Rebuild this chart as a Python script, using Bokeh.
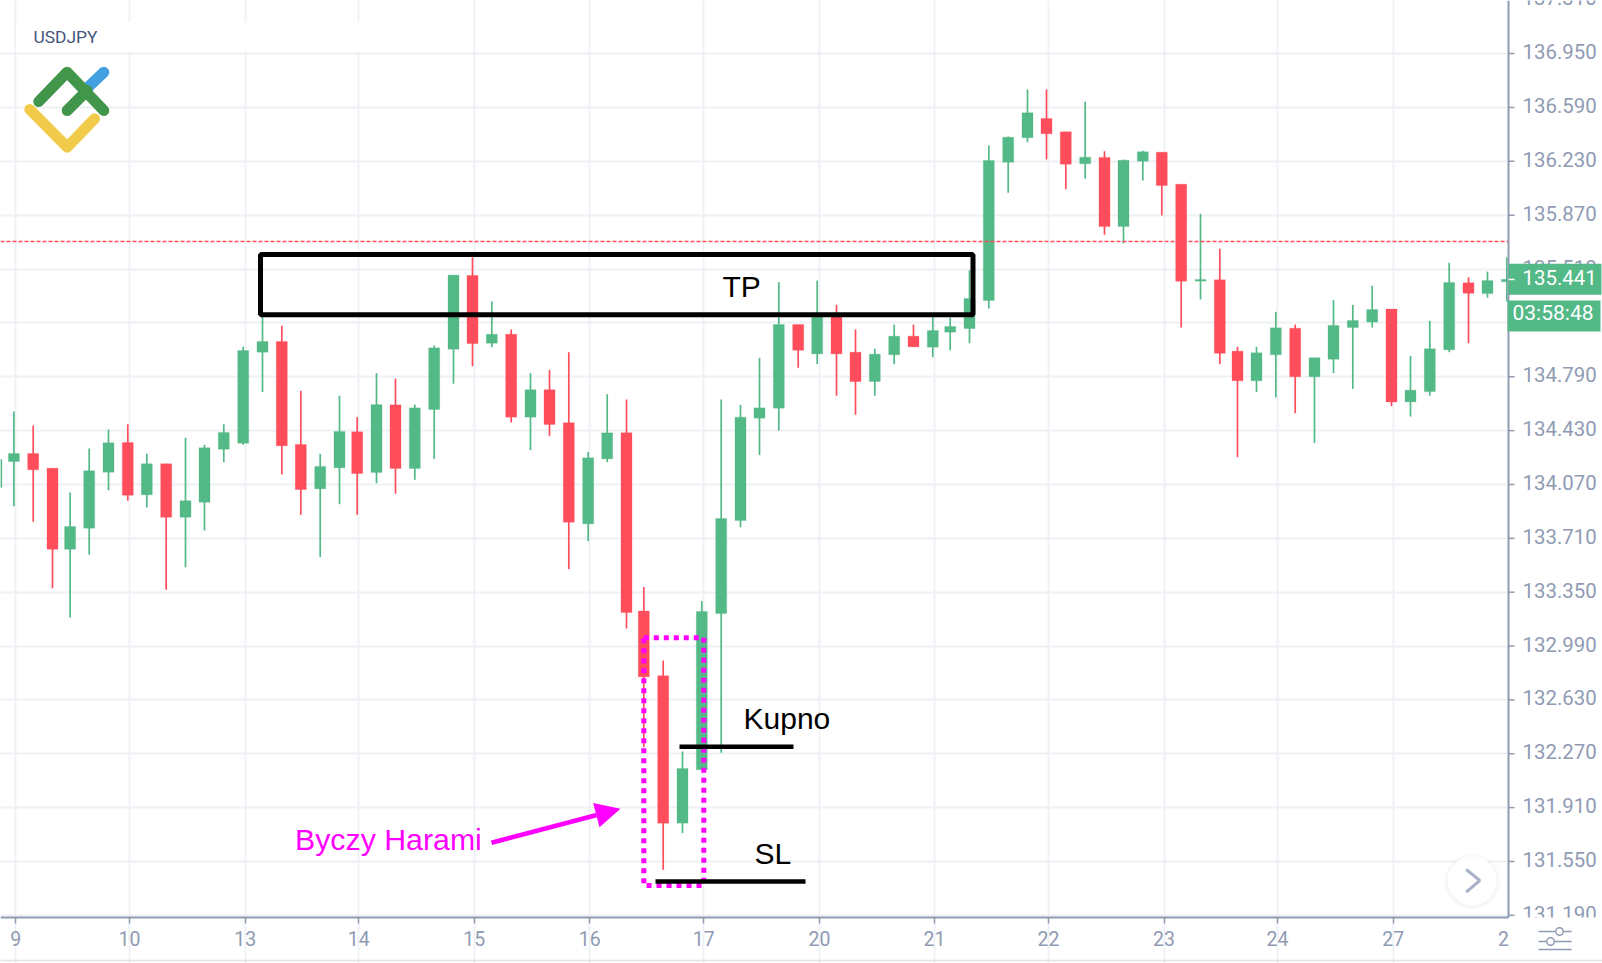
from bokeh.plotting import figure
from bokeh.embed import file_html
from bokeh.resources import INLINE
from bokeh.models import (Range1d, FixedTicker, BoxAnnotation, Label, Arrow, NormalHead,
                          ColumnDataSource, LinearAxis, Grid)

# ---- data ----
bar_pos = [-4,13.4,32.7,52,69.6,88.7,108,127.3,146.3,165.7,185,204,223.3,242.7,262,281.3,300.3,319.7,339,356.7,
           376,395,414.3,433.7,453,472,491.3,510.7,530,549,568.3,587.7,606.7,626,643.3,662.7,682,701.3,720.7,740,
           759,778.3,797.7,816.7,836,855,874.3,893.7,913,932.3,949.7,969,988.3,1007.7,1027,1046,1065.3,1084.7,1104,1123,
           1142.3,1161.3,1180.7,1200,1219.3,1237,1256,1275.3,1294.7,1314,1333,1352.3,1371.7,1391,1410,1429.3,1448.7,1468,1487,1506.3]
opens = [134.050,134.223,134.277,134.179,133.637,133.778,134.152,134.350,134.001,134.208,
         133.851,133.951,134.306,134.346,134.954,135.026,134.337,134.041,134.181,134.422,
         134.150,134.602,134.177,134.571,134.974,135.467,135.014,135.074,134.520,134.703,
         134.482,133.807,134.241,134.415,133.224,132.791,131.806,132.163,133.207,133.829,
         134.513,134.580,135.139,134.943,135.193,134.954,134.758,134.937,135.061,134.988,
         135.088,135.112,135.300,136.224,136.387,136.516,136.427,136.213,136.256,135.794,
         136.231,136.291,136.077,135.429,135.438,134.961,134.763,134.937,135.114,134.790,
         134.907,135.119,135.155,135.242,134.622,134.691,134.970,135.418,135.346,135.425]
highs = [134.237,134.558,134.464,134.179,134.016,134.310,134.437,134.473,134.275,134.208,
         134.382,134.335,134.473,134.990,135.219,135.131,134.696,134.275,134.663,134.520,
         134.814,134.778,134.604,134.999,135.471,135.589,135.293,135.106,134.814,134.836,
         134.954,134.288,134.673,134.638,133.385,132.893,132.285,133.290,134.638,134.602,
         134.917,135.422,135.139,135.433,135.271,135.106,134.977,135.139,135.139,135.193,
         135.186,135.502,136.336,136.396,136.710,136.710,136.427,136.628,136.298,136.242,
         136.300,136.291,136.077,135.879,135.645,134.990,134.990,135.224,135.139,134.917,
         135.304,135.271,135.398,135.242,134.930,135.164,135.552,135.455,135.493,135.587]
lows = [134.050,133.925,133.820,133.377,133.181,133.600,134.032,133.961,133.916,133.366,
        133.517,133.762,134.219,134.335,134.687,134.137,133.867,133.584,133.938,133.867,
        134.078,134.008,134.101,134.241,134.743,134.860,134.988,134.484,134.299,134.393,
        133.504,133.691,134.219,133.107,132.314,131.494,131.739,132.163,132.276,133.784,
        134.266,134.429,134.850,134.874,134.663,134.536,134.663,134.874,134.990,134.921,
        134.967,135.014,135.246,136.020,136.358,136.242,136.044,136.113,135.739,135.681,
        136.102,135.868,135.119,135.306,134.874,134.252,134.687,134.651,134.546,134.348,
        134.814,134.709,135.119,134.593,134.524,134.663,134.954,135.014,135.318,135.293]
closes = [134.237,134.277,134.168,133.637,133.789,134.161,134.348,133.998,134.208,133.851,
          133.961,134.315,134.417,134.965,135.026,134.328,134.036,134.190,134.424,134.143,
          134.604,134.177,134.582,134.983,135.469,135.012,135.074,134.520,134.703,134.471,
          133.818,134.248,134.415,133.214,132.784,131.806,132.171,133.221,133.842,134.520,
          134.582,135.139,134.967,135.193,134.943,134.758,134.941,135.061,134.990,135.099,
          135.126,135.313,136.235,136.391,136.554,136.414,136.211,136.258,135.794,136.237,
          136.294,136.068,135.429,135.440,134.947,134.763,134.950,135.117,134.790,134.917,
          135.133,135.166,135.239,134.622,134.700,134.977,135.420,135.348,135.433,135.441]
price_ticks = [136.95,136.59,136.23,135.87,135.51,135.15,134.79,134.43,134.07,133.71,133.35,132.99,132.63,132.27,131.91,131.55,131.19]
day_ticks = [15.3,129,244.7,358.3,473.7,589.3,703.3,819,934,1048,1163.5,1277,1392.7]
day_labels = ["9","10","13","14","15","16","17","20","21","22","23","24","27"]
last_price = 135.441
bid_line = 135.694
countdown = "03:58:48"
tp_zone = (135.204, 135.607)
harami_zone = (131.389, 133.045)
buy_level = 132.316
stop_level = 131.416

GREEN, RED = "#53b987", "#ff4d5c"
AXIS, GRID = "#8f9bb3", "#edf1f6"

# vertical mapping of the reference picture (decorations only)
def py(y):
    return 137.305 - y / 149.6

AXIS_X = 1508
AXIS_Y = py(917)
LABEL_LIFT = 2 / 149.6   # price labels sit 2px above their tick marks

p = figure(width=1602, height=963, frame_width=1602, frame_height=963,
           x_range=Range1d(0, 1602), y_range=Range1d(py(963), py(0)),
           output_backend="svg", toolbar_location=None,
           min_border_left=0, min_border_top=0, min_border_right=0, min_border_bottom=0,
           x_axis_location=None, y_axis_location=None,
           background_fill_color="white", border_fill_color="white")
p.outline_line_color = None
p.grid.visible = False

p.add_layout(Grid(dimension=0, ticker=FixedTicker(ticks=day_ticks), bounds=(AXIS_Y, py(0)),
                  grid_line_color=GRID, grid_line_width=1.8))
p.add_layout(Grid(dimension=1, ticker=FixedTicker(ticks=price_ticks), bounds=(0, AXIS_X),
                  grid_line_color=GRID, grid_line_width=1.8))

ax = LinearAxis(fixed_location=AXIS_Y, bounds=(0, AXIS_X),
                ticker=FixedTicker(ticks=day_ticks),
                major_label_overrides=dict(zip(day_ticks, day_labels)),
                major_label_text_font="Roboto", major_label_text_font_size="19.5px",
                major_label_text_color=AXIS, major_label_standoff=7,
                axis_line_color=AXIS, axis_line_width=2,
                major_tick_line_color=AXIS, major_tick_line_width=1.5,
                major_tick_in=0, major_tick_out=6, minor_tick_line_color=None)
# price axis: its labels, with the tick marks drawn at the exact prices below
label_ticks = [round(v + LABEL_LIFT, 4) for v in price_ticks]
ay = LinearAxis(fixed_location=AXIS_X, bounds=(AXIS_Y, py(0)),
                ticker=FixedTicker(ticks=label_ticks),
                major_label_overrides={t: f"{v:.3f}" for t, v in zip(label_ticks, price_ticks)},
                major_label_text_font="Roboto", major_label_text_font_size="20.4px",
                major_label_text_color=AXIS, major_label_standoff=14,
                axis_line_color=AXIS, axis_line_width=2,
                major_tick_line_color=None, minor_tick_line_color=None,
                major_tick_in=0, major_tick_out=0)
p.add_layout(ax, "below")
p.add_layout(ay, "right")

# header strip behind the symbol name
p.quad(left=[16], right=[470], top=[py(22)], bottom=[py(51)], fill_color="white", line_color=None)

# candles
colors = [GREEN if c >= o else RED for o, c in zip(opens, closes)]
src = ColumnDataSource(dict(x=bar_pos, o=opens, h=highs, l=lows, c=closes,
                            top=[max(o, c) for o, c in zip(opens, closes)],
                            bot=[min(o, c) for o, c in zip(opens, closes)],
                            color=colors))
p.segment("x", "h", "x", "l", source=src, line_color="color", line_width=1.7)
p.vbar("x", 11, "bot", "top", source=src, fill_color="color", line_color="color", line_width=0.6, line_alpha=0.5)

# candle and price line end at the price axis: mask what spills to its right
p.quad(left=[AXIS_X + 1], right=[1602], top=[py(0)], bottom=[py(917)], fill_color="white", line_color=None)

# tick marks of the price axis
p.segment([AXIS_X] * len(price_ticks), price_ticks, [AXIS_X + 6] * len(price_ticks), price_ticks,
          line_color=AXIS, line_width=1.5)

p.segment([0], [bid_line], [AXIS_X], [bid_line], line_color=RED, line_width=1.6, line_dash="4 2")

# drawn annotations
p.add_layout(BoxAnnotation(left=260, right=972.5, bottom=tp_zone[0], top=tp_zone[1], fill_alpha=0,
                           line_color="black", line_alpha=1, line_width=5))
harami = p.quad(left=[643.3], right=[703.3], bottom=[harami_zone[0]], top=[harami_zone[1]], fill_alpha=0,
                line_color="#ff00ff", line_width=5)
harami.glyph.line_dash = [5, 5]
p.segment([679, 655], [buy_level, stop_level], [793, 805], [buy_level, stop_level], line_color="black", line_width=4.5)

def text(x, y, s, size, color="black", font="Liberation Sans", baseline="middle", align="left"):
    p.add_layout(Label(x=x, y=py(y), text=s, text_font=font, text_font_size=size, text_color=color,
                       text_baseline=baseline, text_align=align, level="overlay"))

text(722, 285.5, "TP", "30px")
text(743, 718, "Kupno", "30px")
text(754, 852.5, "SL", "30px")
text(294.5, 838.7, "Byczy Harami", "30.3px", "#ff00ff")
p.add_layout(Arrow(x_start=491, y_start=py(842.3), x_end=620, y_end=py(808.3),
                   line_color="#ff00ff", line_width=4.5,
                   end=NormalHead(size=25, fill_color="#ff00ff", line_color="#ff00ff", line_width=0)))

# logo
text(33, 36, "USDJPY", "17.4px", "#46557a", "Roboto")
def stroke(xs, ys, color):
    p.line(xs, [py(v) for v in ys], line_color=color, line_width=11, line_cap="round", line_join="round")
stroke([103.3, 87], [71.7, 87.3], "#429fe0")
stroke([38.3, 66.7, 103.3], [101, 71.7, 110], "#41964b")
stroke([66.7, 86.7], [110, 90], "#41964b")
stroke([29.3, 66.7, 94], [109, 146.7, 118.3], "#f2cb4b")

# scroll button
for sz, al in ((56, 0.03), (53, 0.04)):
    p.scatter([1471.7], [py(881)], size=sz, fill_color="#777777", fill_alpha=al, line_color=None)
p.scatter([1471.7], [py(880)], size=49, fill_color="white", line_color=None)
p.line([1465.7, 1479.3, 1465.7], [py(869), py(880), py(891.7)], line_color="#a8b1c7", line_width=3)

def box(l, r, t, b, color):
    p.add_layout(BoxAnnotation(left=l, right=r, top=py(t), bottom=py(b), fill_color=color, fill_alpha=1,
                               line_alpha=0, line_width=0))

# lower half of the lowest price label sits under the time axis
box(1510, 1602, 917, 926, "white")

# first label of the price axis, cut by the top of the picture
text(1522, -3, "137.310", "20.4px", AXIS, "Roboto")

# last price badges
box(1508, 1601, 263.3, 294.3, GREEN)
box(1507, 1600, 300, 331, GREEN)
box(1508, 1514, 278.2, 279.7, "white")
text(1522, 276.5, f"{last_price:.3f}", "20.4px", "white", "Roboto")
text(1512, 312.5, countdown, "21px", "white", "Roboto")

# last time label, settings icon and page edge
text(1503, 938, "2", "19.5px", AXIS, "Roboto", "middle", "center")
p.segment([1538, 1538, 1538], [py(931), py(941), py(949)], [1571, 1571, 1571], [py(931), py(941), py(949)],
          line_color=AXIS, line_width=1.4)
p.scatter([1559, 1550], [py(931), py(941)], size=7.5, fill_color="white", line_color=AXIS, line_width=1.4)
p.segment([0], [py(960)], [1602], [py(960)], line_color="#e3e3e3", line_width=1.5)

open("out.html", "w").write(file_html(p, INLINE))
